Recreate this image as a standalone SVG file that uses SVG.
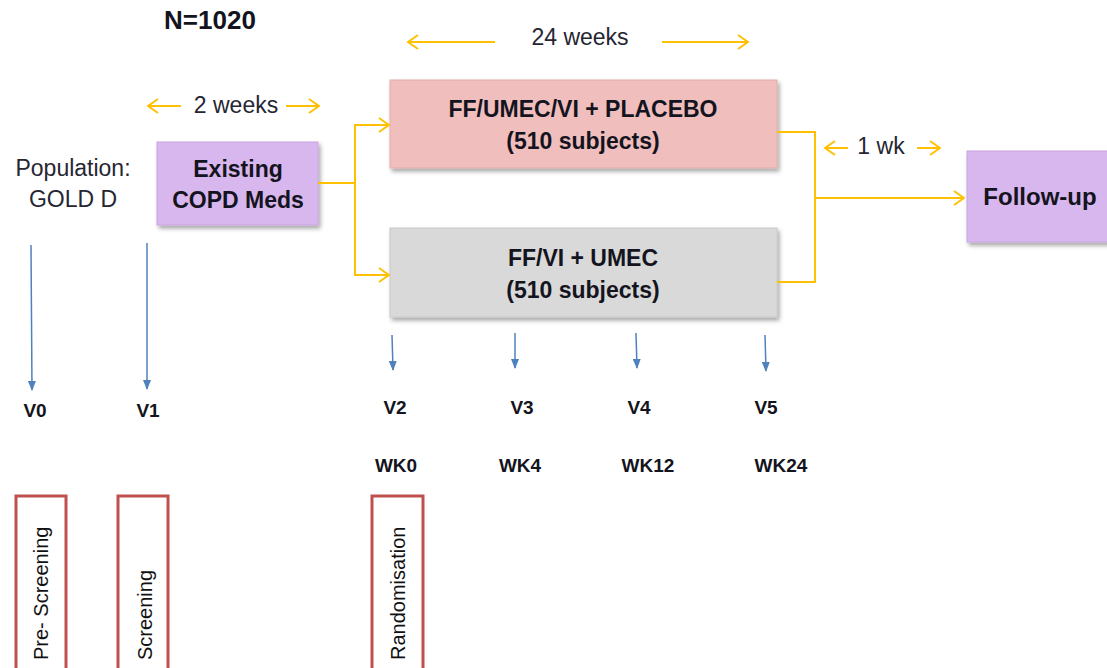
<svg xmlns="http://www.w3.org/2000/svg" width="1107" height="668" viewBox="0 0 1107 668">
<style>
.reg{font-family:"Liberation Sans",Arial,sans-serif;font-size:23px;fill:#262633}
.bold{font-family:"Liberation Sans",Arial,sans-serif;font-weight:bold;fill:#141420}
.box{font-size:23px}
.vl{font-size:19px}
.ph{font-family:"Liberation Sans",Arial,sans-serif;font-size:20px;fill:#111}
.y{fill:none;stroke:#FFC000;stroke-width:2}
.b{fill:none;stroke:#4F81BD;stroke-width:1.5}
.red{fill:#fff;stroke:#C0504D;stroke-width:3}
</style>
<defs>
<marker id="ya" viewBox="0 0 12 16" refX="11" refY="8" markerWidth="12" markerHeight="16" orient="auto-start-reverse" markerUnits="userSpaceOnUse">
<path d="M1,1 L11,8 L1,15" fill="none" stroke="#FFC000" stroke-width="2"/>
</marker>
<marker id="bb" viewBox="0 0 10 8" refX="9" refY="4" markerWidth="10" markerHeight="8" orient="auto" markerUnits="userSpaceOnUse">
<path d="M0,0 L10,4 L0,8 Z" fill="#4F81BD"/>
</marker>
<filter id="sh" x="-10%" y="-10%" width="130%" height="140%">
<feDropShadow dx="2" dy="3" stdDeviation="2" flood-color="#000" flood-opacity="0.35"/>
</filter>
</defs>

<text class="bold" x="210" y="29" font-size="26" text-anchor="middle">N=1020</text>

<g id="population">
<text class="reg" x="73" y="176" text-anchor="middle" font-size="24">Population:</text>
<text class="reg" x="73" y="207" text-anchor="middle">GOLD D</text>
</g>

<g id="existing">
<rect x="157" y="142" width="161" height="83" fill="#D8B7EE" stroke="#C9A5E0" stroke-width="1" filter="url(#sh)"/>
<text class="bold box" x="238" y="177" text-anchor="middle">Existing</text>
<text class="bold box" x="238" y="208" text-anchor="middle">COPD Meds</text>
</g>

<g id="arm1">
<rect x="390" y="80" width="387" height="88" fill="#F0BEBD" stroke="#E3ADAC" stroke-width="1" filter="url(#sh)"/>
<text class="bold box" x="583" y="117" text-anchor="middle">FF/UMEC/VI + PLACEBO</text>
<text class="bold box" x="583" y="149" text-anchor="middle">(510 subjects)</text>
</g>

<g id="arm2">
<rect x="390" y="228" width="387" height="89" fill="#D9D9D9" stroke="#C8C8C8" stroke-width="1" filter="url(#sh)"/>
<text class="bold box" x="583" y="266" text-anchor="middle">FF/VI + UMEC</text>
<text class="bold box" x="583" y="298" text-anchor="middle">(510 subjects)</text>
</g>

<g id="followup">
<rect x="967" y="151" width="160" height="91" fill="#D8B7EE" stroke="#C9A5E0" stroke-width="1" filter="url(#sh)"/>
<text class="bold" x="1040" y="205" font-size="24" text-anchor="middle">Follow-up</text>
</g>

<g id="durations">
<text class="reg" x="580" y="45" text-anchor="middle">24 weeks</text>
<line class="y" x1="495" y1="42" x2="408" y2="42" marker-end="url(#ya)"/>
<line class="y" x1="662" y1="42" x2="748" y2="42" marker-end="url(#ya)"/>
<text class="reg" x="236" y="113" text-anchor="middle">2 weeks</text>
<line class="y" x1="181" y1="106" x2="148" y2="106" marker-end="url(#ya)"/>
<line class="y" x1="286" y1="106" x2="319" y2="106" marker-end="url(#ya)"/>
<text class="reg" x="881" y="154" text-anchor="middle">1 wk</text>
<line class="y" x1="848" y1="148" x2="825" y2="148" marker-end="url(#ya)"/>
<line class="y" x1="917" y1="148" x2="940" y2="148" marker-end="url(#ya)"/>
</g>

<g id="connectors">
<polyline class="y" points="318,183 355,183"/>
<polyline class="y" points="389,125 355,125 355,275 389,275" marker-start="url(#ya)" marker-end="url(#ya)"/>
<polyline class="y" points="777,132 815,132 815,282 777,282"/>
<line class="y" x1="815" y1="198" x2="964" y2="198" marker-end="url(#ya)"/>
<line class="b" x1="31" y1="245" x2="32" y2="390" marker-end="url(#bb)"/>
<line class="b" x1="147" y1="243" x2="147" y2="389" marker-end="url(#bb)"/>
<line class="b" x1="392" y1="335" x2="393" y2="370" marker-end="url(#bb)"/>
<line class="b" x1="515" y1="333" x2="515" y2="368" marker-end="url(#bb)"/>
<line class="b" x1="636" y1="333" x2="637" y2="368" marker-end="url(#bb)"/>
<line class="b" x1="765" y1="335" x2="766" y2="371" marker-end="url(#bb)"/>
</g>

<g id="visits">
<text class="bold vl" x="35" y="417" text-anchor="middle">V0</text>
<text class="bold vl" x="148" y="417" text-anchor="middle">V1</text>
<text class="bold vl" x="395" y="414" text-anchor="middle">V2</text>
<text class="bold vl" x="522" y="414" text-anchor="middle">V3</text>
<text class="bold vl" x="639" y="414" text-anchor="middle">V4</text>
<text class="bold vl" x="766" y="414" text-anchor="middle">V5</text>
<text class="bold vl" x="396" y="472" text-anchor="middle">WK0</text>
<text class="bold vl" x="520" y="472" text-anchor="middle">WK4</text>
<text class="bold vl" x="648" y="472" text-anchor="middle">WK12</text>
<text class="bold vl" x="781" y="472" text-anchor="middle">WK24</text>
</g>

<g id="prescreening">
<rect class="red" x="16" y="496" width="50" height="190"/>
<text class="ph" transform="translate(48 660) rotate(-90)">Pre- Screening</text>
</g>
<g id="screening">
<rect class="red" x="118" y="496" width="50" height="190"/>
<text class="ph" transform="translate(152 660) rotate(-90)">Screening</text>
</g>
<g id="randomisation">
<rect class="red" x="372" y="496" width="51" height="190"/>
<text class="ph" transform="translate(405 660) rotate(-90)">Randomisation</text>
</g>
</svg>
